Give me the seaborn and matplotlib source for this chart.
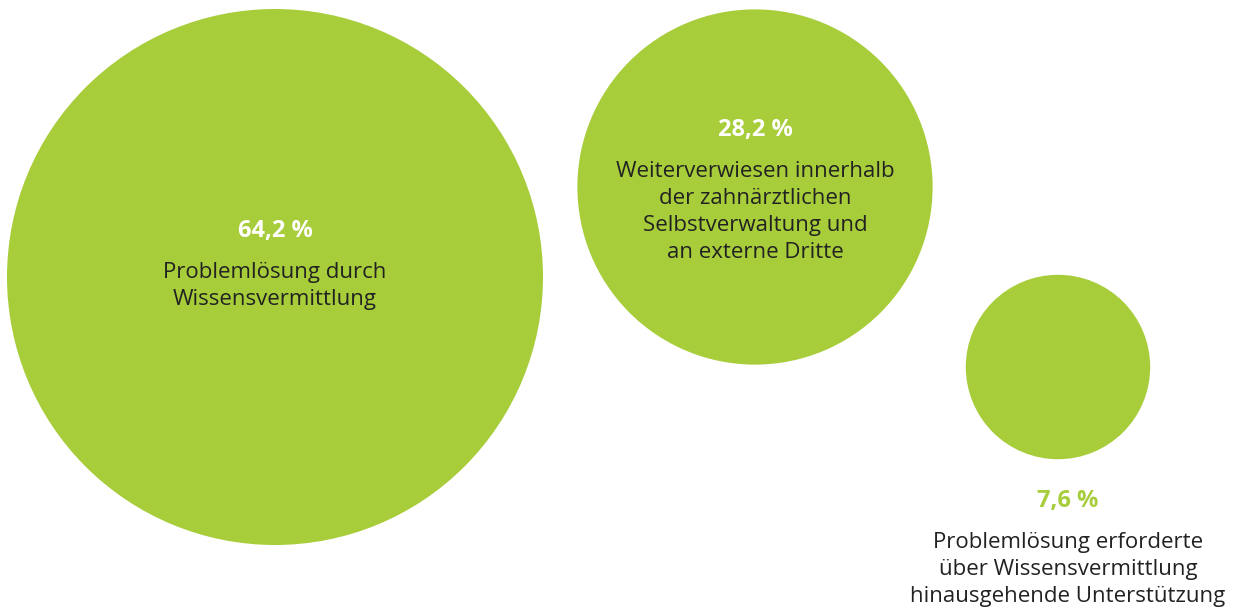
import pandas as pd
import seaborn as sns
import matplotlib.pyplot as plt

# Data
labels = [
    "Problemlösung durch\nWissensvermittlung",
    "Weiterverwiesen innerhalb\nder zahnärztlichen\nSelbstverwaltung und\nan externe Dritte",
    "Problemlösung erforderte\nüber Wissensvermittlung\nhinausgehende Unterstützung",
]
shares = [64.2, 28.2, 7.6]
pct_text = ["64,2 %", "28,2 %", "7,6 %"]

# Layout (pixel space of the 1238x607 canvas)
bubble_x = [275, 755, 1058]
bubble_y = [277, 187, 367]
text_x = [275, 755, 1068]
pct_y = [231, 130, 501]
label_top = [271, 170, 541]
pct_colors = ["white", "white", "#a8cd3a"]

GREEN = "#a8cd3a"
DPI = 100
MAX_RADIUS_PX = 268

sns.set_style("white")
plt.rcParams["font.family"] = ["Open Sans", "DejaVu Sans"]

df = pd.DataFrame({"x": bubble_x, "y": bubble_y, "share": shares})

fig = plt.figure(figsize=(12.38, 6.07), dpi=DPI)
ax = fig.add_axes([0, 0, 1, 1])

# area-proportional bubbles: marker area in points^2
max_diam_pt = 2 * MAX_RADIUS_PX * 72 / DPI
sns.scatterplot(data=df, x="x", y="y", size="share",
                sizes=(0, max_diam_pt ** 2), size_norm=(0, max(shares)),
                color=GREEN, linewidth=0, alpha=1, legend=False, ax=ax)

for i in range(len(shares)):
    ax.text(text_x[i], pct_y[i], pct_text[i], ha="center", va="center",
            fontsize=17, fontweight="bold", color=pct_colors[i])
    ax.text(text_x[i], label_top[i] - 9, labels[i], ha="center", va="top",
            fontsize=16, color="#222222", linespacing=1.38)

ax.set_xlim(0, 1238)
ax.set_ylim(607, 0)
ax.set_axis_off()

fig.savefig("out.png", dpi=DPI)
plt.close(fig)
